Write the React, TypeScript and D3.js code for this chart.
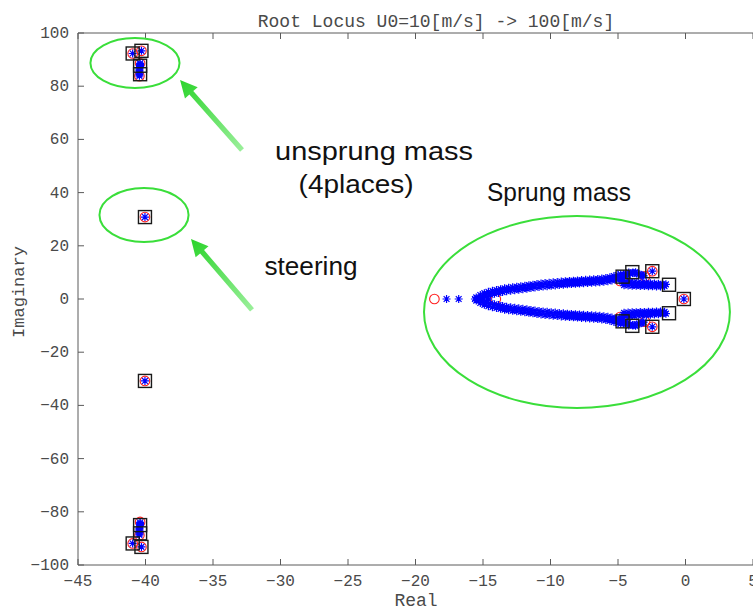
import React from "react";
import * as d3 from "d3";

type P = [number, number];

// Axis ticks
const xTicks = [-45, -40, -35, -30, -25, -20, -15, -10, -5, 0, 5];
const yTicks = [-100, -80, -60, -40, -20, 0, 20, 40, 60, 80, 100];

// Pole positions at U0 = 10 m/s (red circles)
const startPoles: P[] = [
  [-40.95, 92.3], [-40.3, 93.3], [-40.4, 88.6], [-40.45, 83.8],
  [-40.95, -91.9], [-40.3, -93.2], [-40.4, -83.8], [-40.45, -88.8],
  [-40.04, 30.8], [-40.04, -30.8],
  [-18.6, 0], [-14.05, 0], [-4.85, 6.8], [-4.85, -6.8],
  [-3.0, 8.5], [-3.0, -8.5], [-2.46, 10.45], [-2.46, -10.45], [-0.12, 0],
];

// Pole positions at U0 = 100 m/s (black squares)
const endPoles: P[] = [
  [-40.95, 92.3], [-40.3, 93.3], [-40.4, 87.7], [-40.4, 84.5],
  [-40.95, -91.9], [-40.3, -93.2], [-40.4, -85.0], [-40.4, -88.1],
  [-40.04, 30.8], [-40.04, -30.8],
  [-4.66, 8.4], [-3.94, 10.1], [-2.46, 10.45], [-1.22, 5.35], [-0.12, 0],
  [-1.22, -5.35], [-4.66, -8.4], [-3.94, -10.1], [-2.46, -10.45],
];

// Intermediate poles (blue asterisks): unsprung mass + steering
const unsprungPoles: P[] = [
  [-40.95, 92.3], [-40.3, 93.3], [-40.4, 88.6], [-40.4, 88.2], [-40.4, 87.8], [-40.4, 87.4],
  [-40.45, 86.9], [-40.45, 86.4], [-40.45, 85.9], [-40.45, 85.4], [-40.45, 84.9], [-40.45, 84.4], [-40.45, 83.9],
  [-40.95, -91.9], [-40.3, -93.2], [-40.4, -84.0], [-40.4, -84.4], [-40.4, -84.8], [-40.4, -85.3],
  [-40.45, -85.8], [-40.45, -86.3], [-40.45, -86.8], [-40.45, -87.3], [-40.45, -87.8], [-40.45, -88.3], [-40.45, -88.7],
  [-40.04, 30.8], [-40.04, -30.8],
];

// Sprung mass: real-axis and fixed poles
const sprungFixed: P[] = [
  [-17.7, 0], [-16.8, 0], [-15.6, 0], [-15.0, 0], [-14.6, 0],
  [-2.46, 10.45], [-2.46, -10.45], [-0.12, 0],
];

// Sprung mass upper branch (rows of the band)
const sprungUpperA: P[] = [
  [-15.5, 0.6], [-15.2, 1.5], [-14.9, 2.2], [-14.6, 2.7], [-14.3, 3.1], [-14.0, 3.4], [-13.7, 3.7],
  [-13.4, 4.0], [-13.1, 4.2], [-12.8, 4.4], [-12.5, 4.6], [-12.2, 4.8], [-11.9, 5.0], [-11.6, 5.2],
  [-11.3, 5.4], [-11.0, 5.6], [-10.7, 5.8], [-10.4, 6.0], [-10.1, 6.1], [-9.8, 6.3], [-9.5, 6.4],
  [-9.2, 6.6], [-8.9, 6.7], [-8.6, 6.8], [-8.3, 6.9], [-8.0, 7.0], [-7.7, 7.1], [-7.4, 7.2],
  [-7.1, 7.3], [-6.8, 7.4], [-6.5, 7.5], [-6.2, 7.7], [-5.9, 7.9], [-5.6, 8.2], [-5.3, 8.6],
  [-5.0, 9.0], [-4.8, 9.3],
];
const sprungUpperB: P[] = [
  [-15.35, 0.1], [-15.05, 0.6], [-14.75, 1.2], [-14.45, 1.6], [-14.15, 2.0], [-13.85, 2.3], [-13.55, 2.6],
  [-13.25, 2.9], [-12.95, 3.1], [-12.65, 3.3], [-12.35, 3.5], [-12.05, 3.7], [-11.75, 3.9], [-11.45, 4.1],
  [-11.15, 4.3], [-10.85, 4.5], [-10.55, 4.7], [-10.25, 4.8], [-9.95, 5.0], [-9.65, 5.1], [-9.35, 5.3],
  [-9.05, 5.4], [-8.75, 5.5], [-8.45, 5.6], [-8.15, 5.7], [-7.85, 5.8], [-7.55, 5.9], [-7.25, 6.0],
  [-6.95, 6.1], [-6.65, 6.2], [-6.35, 6.3], [-6.05, 6.5], [-5.75, 6.7], [-5.45, 7.0], [-5.15, 7.4],
  [-4.9, 7.8],
];
const sprungUpperC: P[] = [
  [-9.0, 6.0], [-8.8, 6.1], [-8.6, 6.2], [-8.4, 6.25], [-8.2, 6.3], [-8.0, 6.4], [-7.8, 6.45],
  [-7.6, 6.5], [-7.4, 6.6], [-7.2, 6.65], [-7.0, 6.7], [-6.8, 6.8], [-6.6, 6.85], [-6.4, 6.9],
  [-6.2, 7.0], [-6.0, 7.15], [-5.8, 7.3], [-5.6, 7.5], [-5.4, 7.75], [-5.2, 8.0],
];
const sprungUpperEnd: P[] = [
  [-5.1, 7.4], [-4.9, 7.6], [-4.7, 7.9], [-4.5, 8.4], [-4.3, 8.9], [-4.1, 9.4], [-3.9, 9.8],
  [-3.7, 10.1], [-4.6, 9.2], [-4.4, 9.6], [-4.2, 10.0],
  [-3.1, 8.7], [-3.2, 8.9], [-3.3, 9.1], [-3.45, 9.3], [-3.6, 9.6], [-3.75, 9.8], [-3.9, 10.0],
];
const sprungUpperRight: P[] = [
  [-4.7, 6.6], [-4.4, 6.5], [-4.1, 6.4], [-3.8, 6.3], [-3.5, 6.2], [-3.2, 6.1], [-2.9, 6.0],
  [-2.6, 5.9], [-2.3, 5.8], [-2.0, 5.7], [-1.7, 5.6], [-1.45, 5.5],
  [-4.55, 5.2], [-4.25, 5.1], [-3.95, 5.0], [-3.65, 4.95], [-3.35, 4.9], [-3.05, 4.85],
  [-2.75, 4.8], [-2.45, 4.75], [-2.15, 4.7], [-1.85, 4.7], [-1.55, 4.8],
  [-4.6, 5.9], [-4.3, 5.8], [-4.0, 5.7], [-3.7, 5.6], [-3.4, 5.55], [-3.1, 5.5], [-2.8, 5.4],
  [-2.5, 5.3], [-2.2, 5.25], [-1.9, 5.2], [-1.6, 5.15],
];

// Sprung mass lower branch
const sprungLowerA: P[] = [
  [-15.5, -0.6], [-15.2, -1.5], [-14.9, -2.2], [-14.6, -2.7], [-14.3, -3.1], [-14.0, -3.4], [-13.7, -3.7],
  [-13.4, -4.0], [-13.1, -4.2], [-12.8, -4.4], [-12.5, -4.6], [-12.2, -4.8], [-11.9, -5.0], [-11.6, -5.2],
  [-11.3, -5.4], [-11.0, -5.6], [-10.7, -5.8], [-10.4, -6.0], [-10.1, -6.1], [-9.8, -6.3], [-9.5, -6.4],
  [-9.2, -6.6], [-8.9, -6.7], [-8.6, -6.8], [-8.3, -6.9], [-8.0, -7.0], [-7.7, -7.1], [-7.4, -7.2],
  [-7.1, -7.3], [-6.8, -7.4], [-6.5, -7.5], [-6.2, -7.7], [-5.9, -7.9], [-5.6, -8.2], [-5.3, -8.6],
  [-5.0, -9.0], [-4.8, -9.3],
];
const sprungLowerB: P[] = [
  [-15.35, -0.1], [-15.05, -0.6], [-14.75, -1.2], [-14.45, -1.6], [-14.15, -2.0], [-13.85, -2.3], [-13.55, -2.6],
  [-13.25, -2.9], [-12.95, -3.1], [-12.65, -3.3], [-12.35, -3.5], [-12.05, -3.7], [-11.75, -3.9], [-11.45, -4.1],
  [-11.15, -4.3], [-10.85, -4.5], [-10.55, -4.7], [-10.25, -4.8], [-9.95, -5.0], [-9.65, -5.1], [-9.35, -5.3],
  [-9.05, -5.4], [-8.75, -5.5], [-8.45, -5.6], [-8.15, -5.7], [-7.85, -5.8], [-7.55, -5.9], [-7.25, -6.0],
  [-6.95, -6.1], [-6.65, -6.2], [-6.35, -6.3], [-6.05, -6.5], [-5.75, -6.7], [-5.45, -7.0], [-5.15, -7.4],
  [-4.9, -7.8],
];
const sprungLowerC: P[] = [
  [-9.0, -6.0], [-8.8, -6.1], [-8.6, -6.2], [-8.4, -6.25], [-8.2, -6.3], [-8.0, -6.4], [-7.8, -6.45],
  [-7.6, -6.5], [-7.4, -6.6], [-7.2, -6.65], [-7.0, -6.7], [-6.8, -6.8], [-6.6, -6.85], [-6.4, -6.9],
  [-6.2, -7.0], [-6.0, -7.15], [-5.8, -7.3], [-5.6, -7.5], [-5.4, -7.75], [-5.2, -8.0],
];
const sprungLowerEnd: P[] = [
  [-5.1, -7.4], [-4.9, -7.6], [-4.7, -7.9], [-4.5, -8.4], [-4.3, -8.9], [-4.1, -9.4], [-3.9, -9.8],
  [-3.7, -10.1], [-4.6, -9.2], [-4.4, -9.6], [-4.2, -10.0],
  [-3.1, -8.7], [-3.2, -8.9], [-3.3, -9.1], [-3.45, -9.3], [-3.6, -9.6], [-3.75, -9.8], [-3.9, -10.0],
];
const sprungLowerRight: P[] = [
  [-4.7, -6.6], [-4.4, -6.5], [-4.1, -6.4], [-3.8, -6.3], [-3.5, -6.2], [-3.2, -6.1], [-2.9, -6.0],
  [-2.6, -5.9], [-2.3, -5.8], [-2.0, -5.7], [-1.7, -5.6], [-1.45, -5.5],
  [-4.55, -5.2], [-4.25, -5.1], [-3.95, -5.0], [-3.65, -4.95], [-3.35, -4.9], [-3.05, -4.85],
  [-2.75, -4.8], [-2.45, -4.75], [-2.15, -4.7], [-1.85, -4.7], [-1.55, -4.8],
  [-4.6, -5.9], [-4.3, -5.8], [-4.0, -5.7], [-3.7, -5.6], [-3.4, -5.55], [-3.1, -5.5], [-2.8, -5.4],
  [-2.5, -5.3], [-2.2, -5.25], [-1.9, -5.2], [-1.6, -5.15],
];

// Annotations (data coordinates)
const annoEllipses = [
  { cx: -40.78, cy: 88.7, rx: 3.3, ry: 9.4 },
  { cx: -40.11, cy: 31.6, rx: 3.3, ry: 10.15 },
  { cx: -8.04, cy: -4.9, rx: 11.33, ry: 36.1 },
];
const annoArrows = [
  { from: [-32.85, 56.0] as P, to: [-37.44, 82.3] as P },
  { from: [-32.11, -4.1] as P, to: [-36.63, 22.6] as P },
];
const annoTexts = [
  { text: "unsprung mass", x: -23.07, y: 52.3, len: 198 },
  { text: "(4places)", x: -24.4, y: 39.8, len: 115 },
  { text: "steering", x: -27.74, y: 9.0, len: 93 },
  { text: "Sprung mass", x: -9.37, y: 36.8, len: 144 },
];

const W = 753;
const H = 610;
const GREEN = "#3ade3a";
const AXIS = "#5a5a5a";
const TXT = "#4a4a4a";
const MONO = "'Liberation Mono', 'DejaVu Sans Mono', monospace";

const x = d3.scaleLinear().domain([-45, 5]).range([78, 753]);
const y = d3.scaleLinear().domain([-100, 100]).range([565, 33]);

const s = 4.0;
const dd = s * 0.72;
const asteriskPath = `M${-s},0H${s}M0,${-s}V${s}M${-dd},${-dd}L${dd},${dd}M${-dd},${dd}L${dd},${-dd}`;

const blueSets = [
  unsprungPoles, sprungFixed, sprungUpperA, sprungUpperB, sprungUpperC, sprungUpperEnd, sprungUpperRight,
  sprungLowerA, sprungLowerB, sprungLowerC, sprungLowerEnd, sprungLowerRight,
];

function arrowPoly(from: P, to: P) {
  const x0 = x(from[0]), y0 = y(from[1]);
  const x1 = x(to[0]), y1 = y(to[1]);
  const dx = x1 - x0, dy = y1 - y0;
  const L = Math.hypot(dx, dy);
  const ux = dx / L, uy = dy / L;
  const nx = -uy, ny = ux;
  const hl = 17, hw = 8.5, sw = 2.6;
  const bx = x1 - ux * hl, by = y1 - uy * hl;
  const pts: P[] = [
    [x0 + nx * sw, y0 + ny * sw],
    [bx + nx * sw, by + ny * sw],
    [bx + nx * hw, by + ny * hw],
    [x1, y1],
    [bx - nx * hw, by - ny * hw],
    [bx - nx * sw, by - ny * sw],
    [x0 - nx * sw, y0 - ny * sw],
  ];
  return { d: "M" + pts.map((p) => p.join(",")).join("L") + "Z", x0, y0, x1, y1 };
}

export default function App() {
  return (
    <svg width={W} height={H} style={{ position: "absolute", left: 0, top: 0, background: "#fff" }}>
      <rect x={0} y={0} width={W} height={H} fill="#fff" />
      {/* frame */}
      <line x1={x(-45)} x2={x(5)} y1={y(100)} y2={y(100)} stroke={AXIS} strokeWidth={1} />
      <line x1={x(-45)} x2={x(5)} y1={y(-100)} y2={y(-100)} stroke={AXIS} strokeWidth={1} />
      <line x1={x(-45)} x2={x(-45)} y1={y(100)} y2={y(-100)} stroke={AXIS} strokeWidth={1} />
      {xTicks.map((t) => (
        <g key={"xt" + t}>
          <line x1={x(t)} x2={x(t)} y1={y(-100)} y2={y(-100) - 6} stroke={AXIS} />
          <line x1={x(t)} x2={x(t)} y1={y(100)} y2={y(100) + 6} stroke={AXIS} />
          <text x={x(t)} y={y(-100) + 21} textAnchor="middle" fontFamily={MONO} fontSize={16} fill={TXT}>
            {d3.format("d")(t)}
          </text>
        </g>
      ))}
      {yTicks.map((t) => (
        <g key={"yt" + t}>
          <line x1={x(-45)} x2={x(-45) + 6} y1={y(t)} y2={y(t)} stroke={AXIS} />
          <text x={x(-45) - 9} y={y(t) + 5} textAnchor="end" fontFamily={MONO} fontSize={16} fill={TXT}>
            {d3.format("d")(t)}
          </text>
        </g>
      ))}
      <text x={436} y={27} textAnchor="middle" fontFamily={MONO} fontSize={18} fill={TXT}>
        Root Locus U0=10[m/s] -&gt; 100[m/s]
      </text>
      <text x={416} y={606} textAnchor="middle" fontFamily={MONO} fontSize={18} fill={TXT}>
        Real
      </text>
      <text
        transform={`translate(24,292) rotate(-90)`}
        textAnchor="middle"
        fontFamily={MONO}
        fontSize={17}
        fill={TXT}
      >
        Imaginary
      </text>

      {/* start poles */}
      {startPoles.map((p, i) => (
        <circle key={"r" + i} cx={x(p[0])} cy={y(p[1])} r={4.8} fill="none" stroke="#ff2020" strokeWidth={1.1} />
      ))}
      {/* intermediate poles */}
      {blueSets.map((set, k) =>
        set.map((p, i) => (
          <path
            key={"b" + k + "_" + i}
            d={asteriskPath}
            transform={`translate(${x(p[0])},${y(p[1])})`}
            fill="none"
            stroke="#0000ff"
            strokeWidth={1.2}
          />
        ))
      )}
      {/* end poles */}
      {endPoles.map((p, i) => (
        <rect
          key={"s" + i}
          x={x(p[0]) - 6.5}
          y={y(p[1]) - 6.5}
          width={13}
          height={13}
          fill="none"
          stroke="#1a1a1a"
          strokeWidth={1.4}
        />
      ))}

      {/* annotations */}
      <defs>
        {annoArrows.map((a, i) => {
          const g = arrowPoly(a.from, a.to);
          return (
            <linearGradient
              key={"g" + i}
              id={"ag" + i}
              gradientUnits="userSpaceOnUse"
              x1={g.x0}
              y1={g.y0}
              x2={g.x1}
              y2={g.y1}
            >
              <stop offset="0" stopColor="#9aef9a" />
              <stop offset="1" stopColor="#2bd42b" />
            </linearGradient>
          );
        })}
      </defs>
      {annoEllipses.map((e, i) => (
        <ellipse
          key={"e" + i}
          cx={x(e.cx)}
          cy={y(e.cy)}
          rx={x(e.cx + e.rx) - x(e.cx)}
          ry={y(e.cy - e.ry) - y(e.cy)}
          fill="none"
          stroke={GREEN}
          strokeWidth={2}
        />
      ))}
      {annoArrows.map((a, i) => (
        <path key={"a" + i} d={arrowPoly(a.from, a.to).d} fill={`url(#ag${i})`} />
      ))}
      {annoTexts.map((t, i) => (
        <text
          key={"t" + i}
          x={x(t.x)}
          y={y(t.y)}
          textAnchor="middle"
          fontFamily="'Liberation Sans', Arial, sans-serif"
          fontSize={25}
          fill="#111"
          textLength={t.len}
          lengthAdjust="spacingAndGlyphs"
        >
          {t.text}
        </text>
      ))}
    </svg>
  );
}
